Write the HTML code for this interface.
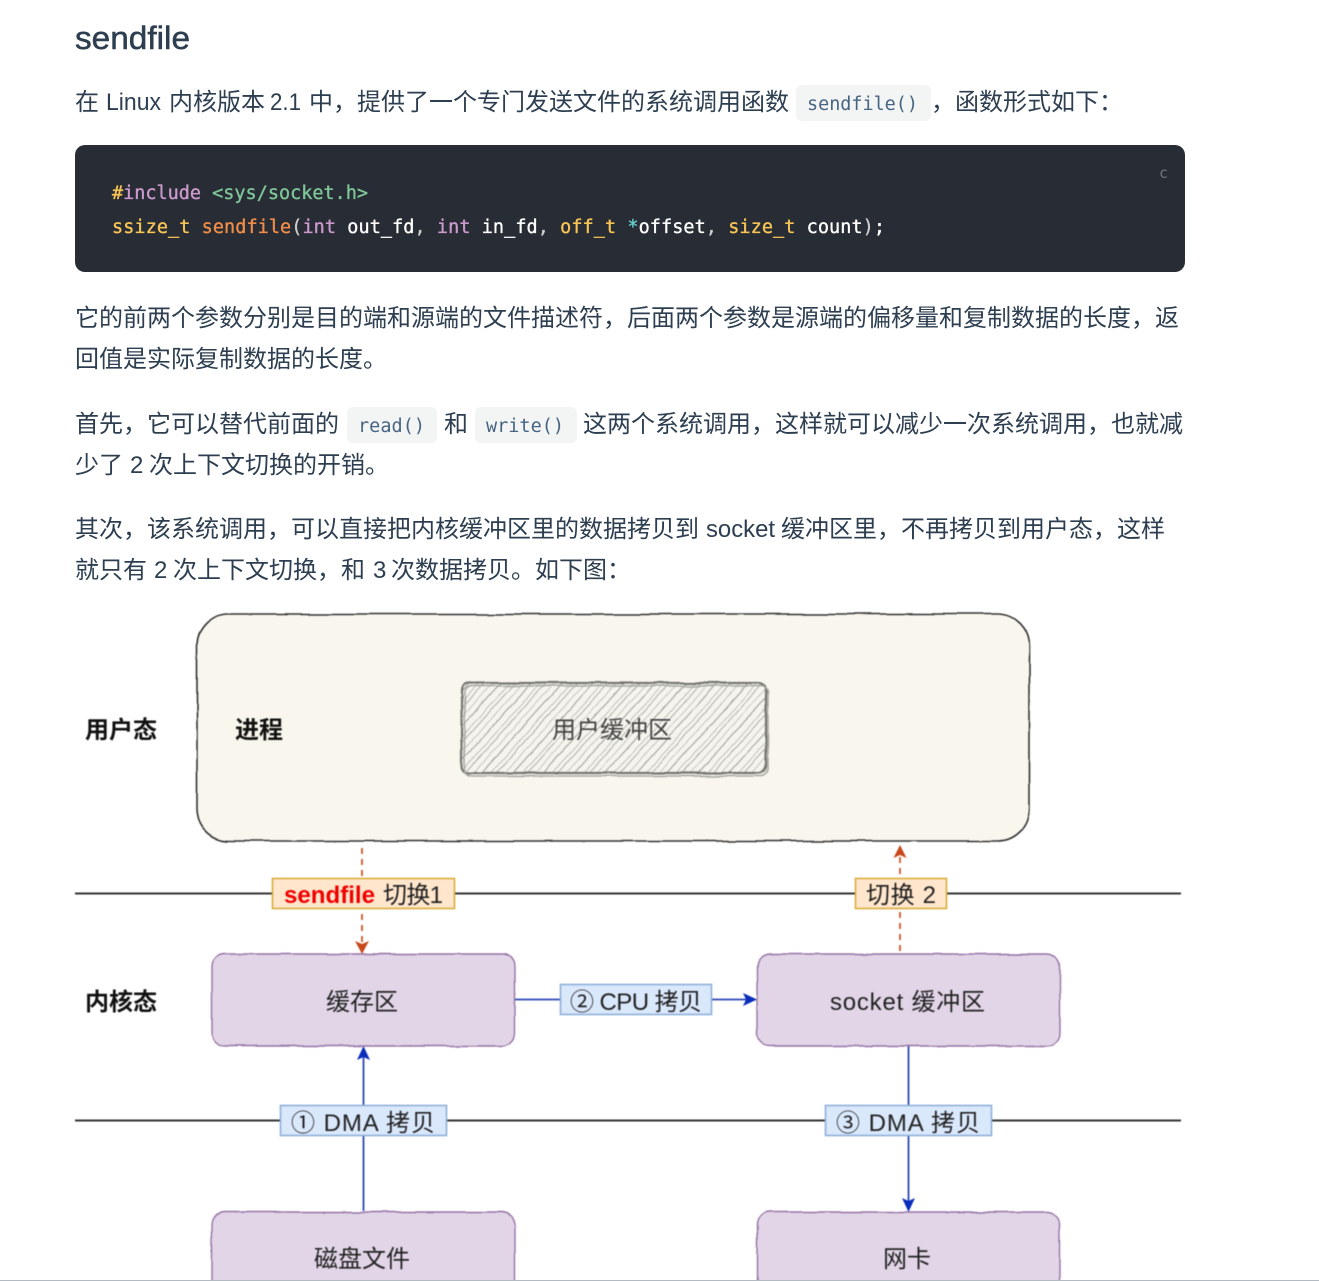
<!DOCTYPE html>
<html lang="zh-CN">
<head>
<meta charset="utf-8">
<title>sendfile</title>
<style>
html,body{margin:0;padding:0;background:#fff;width:1319px;height:1281px;overflow:hidden}
svg{display:block}
text{font-family:"Liberation Sans","Noto Sans CJK SC",sans-serif}
.p{font-size:24px;fill:#2c3e50;font-weight:400}
.m{font-family:"DejaVu Sans Mono","Liberation Mono",monospace;font-size:18.5px}
.ic{fill:#476582}
.code{stroke-width:.35px}
.w{fill:#fff;stroke:#fff}
.y{fill:#f8c555;stroke:#f8c555}
.g{fill:#7ec699;stroke:#7ec699}
.v{fill:#cc99cd;stroke:#cc99cd}
.o{fill:#f08d49;stroke:#f08d49}
.t{fill:#67cdcc;stroke:#67cdcc}
.n{fill:#cccccc;stroke:#cccccc}
.d{font-size:24px;fill:#222}
.b{font-size:24px;fill:#111;font-weight:700}
</style>
</head>
<body>
<svg width="1319" height="1281" viewBox="0 0 1319 1281" xmlns="http://www.w3.org/2000/svg">
<defs>
<filter id="w" x="-5%" y="-5%" width="110%" height="110%" color-interpolation-filters="sRGB">
<feTurbulence type="fractalNoise" baseFrequency="0.025" numOctaves="2" seed="4"/>
<feDisplacementMap in="SourceGraphic" scale="4" xChannelSelector="R" yChannelSelector="G"/>
</filter>
<filter id="w2" x="-5%" y="-5%" width="110%" height="110%" color-interpolation-filters="sRGB">
<feTurbulence type="fractalNoise" baseFrequency="0.04" numOctaves="2" seed="9"/>
<feDisplacementMap in="SourceGraphic" scale="3" xChannelSelector="R" yChannelSelector="G"/>
</filter>
<filter id="s" color-interpolation-filters="sRGB"><feGaussianBlur stdDeviation="0.4"/></filter>
<pattern id="h" width="23" height="23" patternUnits="userSpaceOnUse" patternTransform="rotate(42)">
<line x1="1" y1="0" x2="1" y2="23" stroke="#a2a29a" stroke-width="1.1"/>
<line x1="8" y1="0" x2="8" y2="23" stroke="#c0c0b8" stroke-width="1"/>
<line x1="12" y1="0" x2="12" y2="23" stroke="#aeaea6" stroke-width="1"/>
<line x1="18" y1="0" x2="18" y2="23" stroke="#c6c6be" stroke-width="1"/>
</pattern>
</defs>

<!-- Article text -->
<text x="75" y="49" font-size="32" fill="#2c3e50" stroke="#2c3e50" stroke-width=".5" textLength="115" lengthAdjust="spacingAndGlyphs">sendfile</text>

<text class="p" x="75" y="110">在</text>
<text class="p" x="106" y="110" textLength="55" lengthAdjust="spacingAndGlyphs">Linux</text>
<text class="p" x="169" y="110">内核版本</text>
<text class="p" x="270" y="110" textLength="31" lengthAdjust="spacingAndGlyphs">2.1</text>
<text class="p" x="309" y="110">中，提供了一个专门发送文件的系统调用函数</text>
<rect x="796" y="85" width="135" height="36" rx="6" fill="#f3f4f4"/>
<text class="m ic" x="807" y="110" textLength="111">sendfile()</text>
<text class="p" x="931" y="110">，函数形式如下：</text>

<!-- Code block -->
<rect x="75" y="145" width="1110" height="127" rx="10" fill="#282c34"/>
<text x="1159" y="178" font-size="15" fill="#6f747c" style="font-family:'DejaVu Sans Mono',monospace">c</text>
<text class="m code" x="112" y="199" textLength="256"><tspan class="y">#</tspan><tspan class="v">include</tspan><tspan class="g"> &lt;sys/socket.h&gt;</tspan></text>
<text class="m code" x="112" y="233" textLength="773"><tspan class="y">ssize_t</tspan><tspan class="w"> </tspan><tspan class="o">sendfile</tspan><tspan class="n">(</tspan><tspan class="v">int</tspan><tspan class="w"> out_fd</tspan><tspan class="n">,</tspan><tspan class="w"> </tspan><tspan class="v">int</tspan><tspan class="w"> in_fd</tspan><tspan class="n">,</tspan><tspan class="w"> </tspan><tspan class="y">off_t</tspan><tspan class="w"> </tspan><tspan class="t">*</tspan><tspan class="w">offset</tspan><tspan class="n">,</tspan><tspan class="w"> </tspan><tspan class="y">size_t</tspan><tspan class="w"> count</tspan><tspan class="n">)</tspan><tspan class="w">;</tspan></text>

<text class="p" x="75" y="326">它的前两个参数分别是目的端和源端的文件描述符，后面两个参数是源端的偏移量和复制数据的长度，返</text>
<text class="p" x="75" y="367">回值是实际复制数据的长度。</text>

<text class="p" x="75" y="432">首先，它可以替代前面的</text>
<rect x="347" y="407" width="90" height="36" rx="6" fill="#f3f4f4"/>
<text class="m ic" x="358" y="432" textLength="67">read()</text>
<text class="p" x="444" y="432">和</text>
<rect x="475" y="407" width="102" height="36" rx="6" fill="#f3f4f4"/>
<text class="m ic" x="486" y="432" textLength="78">write()</text>
<text class="p" x="583" y="432">这两个系统调用，这样就可以减少一次系统调用，也就减</text>
<text class="p" x="75" y="473">少了</text>
<text class="p" x="130" y="473">2</text>
<text class="p" x="149" y="473">次上下文切换的开销。</text>

<text class="p" x="75" y="537">其次，该系统调用，可以直接把内核缓冲区里的数据拷贝到</text>
<text class="p" x="706" y="537" textLength="69" lengthAdjust="spacingAndGlyphs">socket</text>
<text class="p" x="781" y="537">缓冲区里，不再拷贝到用户态，这样</text>
<text class="p" x="75" y="578">就只有</text>
<text class="p" x="154" y="578">2</text>
<text class="p" x="173" y="578">次上下文切换，和</text>
<text class="p" x="373" y="578">3</text>
<text class="p" x="391" y="578">次数据拷贝。如下图：</text>

<!-- Diagram -->
<g filter="url(#s)">
<rect x="197" y="614" width="832" height="227" rx="32" fill="#f9f7ed" stroke="#333" stroke-width="1.6" filter="url(#w)"/>

<g filter="url(#w2)">
<rect x="463" y="684" width="303" height="90" rx="6" fill="#f5f4ee"/>
<rect x="463" y="684" width="303" height="90" rx="6" fill="url(#h)"/>
<rect x="462" y="683" width="304" height="90" rx="7" fill="none" stroke="#777772" stroke-width="2.2"/>
<rect x="465" y="686" width="303" height="90" rx="7" fill="none" stroke="#a8a8a2" stroke-width="1.6"/>
</g>
<text x="552" y="738" font-size="24" fill="#444">用户缓冲区</text>

<text class="b" x="85" y="738">用户态</text>
<text class="b" x="235" y="738">进程</text>
<text class="b" x="85" y="1010">内核态</text>

<!-- horizontal lines -->
<line x1="75" y1="893.5" x2="1181" y2="893.5" stroke="#333" stroke-width="2"/>
<line x1="75" y1="1120.5" x2="1181" y2="1120.5" stroke="#333" stroke-width="2"/>

<!-- dashed arrows -->
<line x1="362" y1="848" x2="362" y2="945" stroke="#d2562c" stroke-width="1.8" stroke-dasharray="6 5"/>
<path d="M355 941 L362 954 L369 941 L362 944 Z" fill="#c8481a"/>
<line x1="900" y1="857" x2="900" y2="954" stroke="#d2562c" stroke-width="1.8" stroke-dasharray="6 5"/>
<path d="M893.500 858 L900 845 L906.500 858 L900 855 Z" fill="#c8481a"/>

<!-- blue arrows -->
<line x1="515" y1="999.500" x2="750" y2="999.500" stroke="#2a46b8" stroke-width="1.8"/>
<path d="M743 993 L757 999.500 L743 1006 L746 999.500 Z" fill="#0a2dbb"/>
<line x1="363.500" y1="1052" x2="363.500" y2="1211" stroke="#2a46b8" stroke-width="1.8"/>
<path d="M357 1060 L363.500 1046 L370 1060 L363.500 1057 Z" fill="#0a2dbb"/>
<line x1="908.500" y1="1046" x2="908.500" y2="1205" stroke="#2a46b8" stroke-width="1.8"/>
<path d="M902 1198 L908.500 1212 L915 1198 L908.500 1201 Z" fill="#0a2dbb"/>

<!-- purple boxes -->
<g fill="#e1d5e7" stroke="#9673a6" stroke-width="1.4" filter="url(#w2)">
<rect x="212" y="954" width="303" height="92" rx="13"/>
<rect x="757" y="954" width="303" height="92" rx="13"/>
<rect x="212" y="1212" width="303" height="92" rx="13"/>
<rect x="757" y="1212" width="303" height="92" rx="13"/>
</g>
<text class="d" x="326" y="1010" fill="#333">缓存区</text>
<text class="d" x="830" y="1010" textLength="155">socket 缓冲区</text>
<text class="d" x="314" y="1267">磁盘文件</text>
<text class="d" x="883" y="1267">网卡</text>

<!-- labels -->
<g stroke-width="1.6">
<rect x="272.500" y="878.500" width="182" height="30" fill="#ffe6cc" stroke="#d9ad3a"/>
<rect x="855.500" y="878.500" width="91" height="30" fill="#ffe6cc" stroke="#d9ad3a"/>
<rect x="560.500" y="984.500" width="151" height="30" fill="#dae8fc" stroke="#8eb0d8"/>
<rect x="280.500" y="1105.500" width="166" height="30" fill="#dae8fc" stroke="#8eb0d8"/>
<rect x="825.500" y="1105.500" width="166" height="30" fill="#dae8fc" stroke="#8eb0d8"/>
</g>
<text x="284" y="903" font-size="24" fill="#f00000" font-weight="700" textLength="91" lengthAdjust="spacingAndGlyphs">sendfile</text>
<text class="d" x="383" y="903" textLength="60">切换1</text>
<text class="d" x="866" y="903" textLength="70">切换 2</text>
<text class="d" x="570" y="1010" textLength="132">② CPU 拷贝</text>
<text class="d" x="291" y="1131" textLength="144">① DMA 拷贝</text>
<text class="d" x="836" y="1131" textLength="144">③ DMA 拷贝</text>
</g>

<rect x="0" y="1280" width="1319" height="1" fill="#b4bac2"/>
</svg>
</body>
</html>
